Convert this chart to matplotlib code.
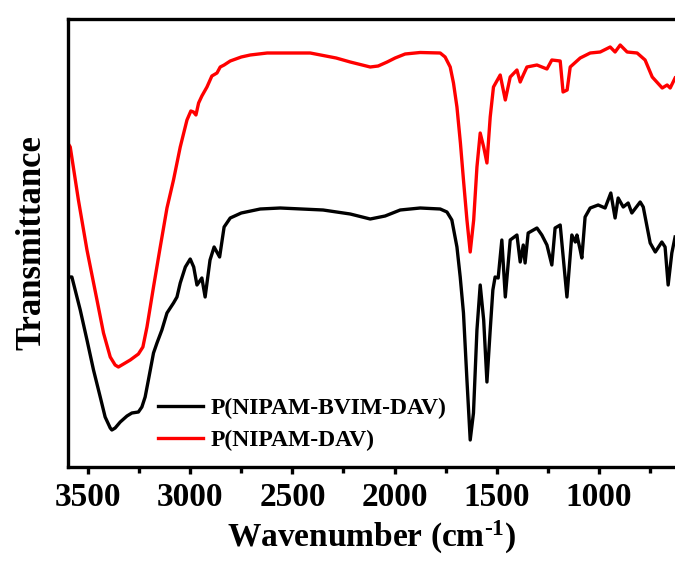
import matplotlib.pyplot as plt

# --- spectra (wavenumber in cm-1, transmittance in arbitrary units) ---
wn_bvim = [3599, 3581, 3540, 3507, 3475, 3442, 3418, 3393, 3385, 3369, 3344, 3311,
           3287, 3255, 3238, 3222, 3206, 3181, 3164, 3140, 3115, 3083, 3066, 3050,
           3025, 3001, 2984, 2968, 2944, 2928, 2904, 2884, 2857, 2835, 2805, 2751,
           2658, 2560, 2350, 2217, 2119, 2046, 1972, 1874, 1776, 1743, 1719, 1694,
           1678, 1662, 1645, 1629, 1613, 1596, 1580, 1563, 1547, 1531, 1518, 1507,
           1492, 1474, 1457, 1433, 1400, 1384, 1369, 1360, 1345, 1302, 1278, 1253,
           1229, 1213, 1188, 1155, 1131, 1114, 1106, 1090, 1082, 1066, 1041, 1002,
           968, 940, 919, 904, 879, 855, 837, 796, 781, 747, 722, 690, 674, 659,
           641, 625]
t_bvim = [190, 190, 157, 127, 97, 70, 50, 39, 37, 39, 45, 51,
          54, 55, 60, 70, 87, 114, 124, 137, 154, 164, 170, 184,
          200, 208, 200, 182, 189, 170, 207, 220, 210, 240, 249, 254,
          258, 259, 257, 253, 248, 251, 257, 259, 258, 255, 247, 220,
          190, 154, 87, 27, 54, 137, 182, 147, 85, 137, 177, 190,
          189, 227, 170, 227, 232, 205, 222, 204, 234, 239, 232, 222,
          202, 239, 242, 170, 232, 225, 232, 217, 209, 250, 259, 262,
          259, 274, 249, 269, 260, 264, 254, 265, 260, 224, 215, 225, 220, 182,
          214, 230]

wn_dav = [3595, 3589, 3549, 3507, 3458, 3426, 3393, 3369, 3353, 3328, 3295, 3255,
          3233, 3213, 3181, 3148, 3115, 3083, 3050, 3017, 2998, 2985, 2973, 2960,
          2944, 2919, 2895, 2870, 2854, 2835, 2805, 2751, 2707, 2624, 2511, 2413,
          2286, 2217, 2119, 2080, 2036, 1997, 1948, 1874, 1776, 1752, 1727, 1711,
          1694, 1677, 1662, 1645, 1629, 1612, 1596, 1580, 1563, 1547, 1531, 1515,
          1482, 1457, 1433, 1400, 1384, 1369, 1351, 1302, 1253, 1229, 1188, 1174,
          1154, 1139, 1090, 1041, 992, 943, 919, 894, 860, 811, 772, 737, 688,
          664, 649, 625]
t_dav = [322, 320, 267, 217, 167, 134, 110, 102, 100, 103, 107, 113,
         120, 140, 180, 220, 259, 287, 320, 347, 356, 355, 352, 364,
         371, 380, 391, 394, 400, 402, 406, 410, 412, 414, 414, 414,
         409, 405, 400, 401, 405, 409, 413, 414.5, 414, 410, 400, 384,
         360, 324, 287, 247, 215, 247, 300, 334, 320, 304, 350, 380,
         392, 367, 390, 397, 385, 392, 400, 402, 398, 407, 406, 375,
         377, 400, 409, 414, 415, 420, 415, 422, 415, 414, 407, 390, 379,
         382, 379, 389]

labels = ["P(NIPAM-BVIM-DAV)", "P(NIPAM-DAV)"]
major_ticks = [3500, 3000, 2500, 2000, 1500, 1000]
minor_ticks = [3250, 2750, 2250, 1750, 1250, 750]

plt.rcParams['font.family'] = ['Liberation Serif', 'DejaVu Serif']
plt.rcParams['font.weight'] = 'bold'
plt.rcParams['mathtext.fontset'] = 'custom'
plt.rcParams['mathtext.rm'] = 'Liberation Serif:bold'
plt.rcParams['mathtext.it'] = 'Liberation Serif:bold'
plt.rcParams['mathtext.bf'] = 'Liberation Serif:bold'

fig = plt.figure(figsize=(6.75, 5.63), dpi=100)
# axes run past the right edge of the picture, like the cropped original
ax = fig.add_axes([68 / 675, 96 / 563, 653 / 675, 448 / 563])

ax.plot(wn_bvim, t_bvim, color='black', lw=2.4, label=labels[0])
ax.plot(wn_dav, t_dav, color='red', lw=2.4, label=labels[1])

ax.set_xlim(3600, 400)
ax.set_ylim(0, 448)

for s in ax.spines.values():
    s.set_linewidth(2.4)

ax.set_xticks(major_ticks)
ax.set_xticks(minor_ticks, minor=True)
ax.tick_params(axis='x', which='major', direction='out', length=5, width=2.4,
               labelsize=24, pad=6)
ax.tick_params(axis='x', which='minor', direction='out', length=4, width=2.4)
ax.set_yticks([])
for lab in ax.get_xticklabels():
    lab.set_fontweight('bold')

ax.set_xlabel("Wavenumber (cm$^{\u2010 1}$)", fontsize=24, fontweight='bold')
ax.xaxis.set_label_coords(0.4655, -0.115)
ax.set_ylabel("Transmittance", fontsize=25, fontweight='bold', labelpad=14)

ax.legend(loc='lower left', bbox_to_anchor=(0.105, -0.012), frameon=False,
          prop={'size': 17, 'weight': 'bold'}, handlelength=1.9, handletextpad=0.35,
          labelspacing=0.45)

fig.savefig("out.png", dpi=100)
